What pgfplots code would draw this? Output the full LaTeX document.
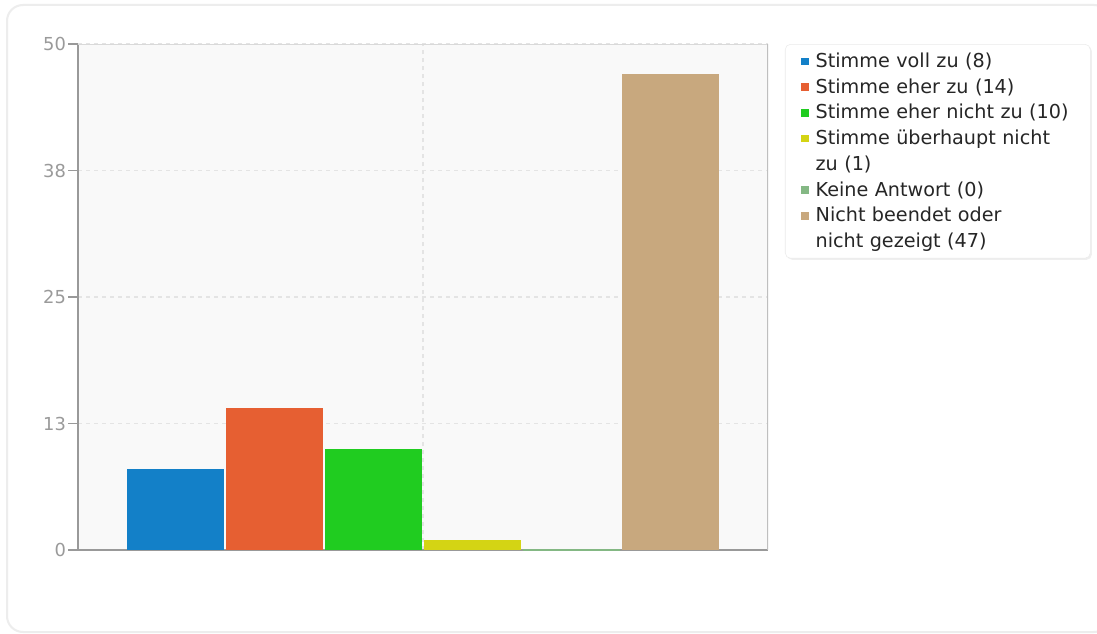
\documentclass[border=0pt]{standalone}
\usepackage{pgfplots}
\pgfplotsset{compat=1.18}
\usetikzlibrary{shadows}
\usepackage{fontspec}
\setmainfont{DejaVu Sans}
\definecolor{cBlue}{HTML}{1380C8}
\definecolor{cOrange}{HTML}{E65F32}
\definecolor{cGreen}{HTML}{20CC20}
\definecolor{cYellow}{HTML}{D4D414}
\definecolor{cLGreen}{HTML}{84B884}
\definecolor{cTan}{HTML}{C8A87E}
\definecolor{tickgray}{HTML}{9A9A9A}
\definecolor{axgray}{HTML}{999999}
\definecolor{gridgray}{HTML}{E4E4E4}
\definecolor{plotbg}{HTML}{F9F9F9}
\pgfplotsset{
  sq/.style={only marks, mark=square*, mark size=2.5pt, mark options={draw=#1, fill=#1}},
  sqNone/.style={only marks, mark=square*, mark size=2.5pt, mark options={draw=white, fill=white}},
}
\begin{document}
\begin{tikzpicture}[x=0.75pt,y=0.75pt]
\useasboundingbox (0,0) rectangle (1097,633);
\fill[white] (0,0) rectangle (1097,633);
\draw[color=black!7,line width=1.5pt,rounded corners=12pt] (7,1) rectangle (1110,628);
\begin{axis}[
  scale only axis,
  width=517.5pt, height=379.5pt,
  at={(78,82)}, anchor=south west,
  xmin=0, xmax=690, ymin=0, ymax=50,
  axis background/.style={fill=plotbg},
  ytick={0,12.5,25,37.5,50},
  yticklabels={0,13,25,38,50},
  xtick={345}, xticklabels={},
  major x tick style={draw=none},
  xmajorgrids, ymajorgrids,
  grid style={gridgray, dashed, line width=0.8pt},
  axis x line*=bottom, axis y line*=left,
  axis line style={axgray, line width=0.9pt, -},
  tick style={axgray, line width=0.8pt},
  major tick length=7.5pt,
  tick align=outside,
  yticklabel style={tickgray, font=\fontsize{13.4}{15}\selectfont, xshift=2pt},
  /pgf/number format/assume math mode=true,
  legend style={
    at={(1.0246,1.0)}, anchor=north west,
    draw=black!8, fill=white, rounded corners=4pt,
    drop shadow={opacity=0.12, shadow xshift=1.2pt, shadow yshift=-1.2pt},
    font=\fontsize{14.4}{17}\selectfont, text=black!85,
    row sep=2.85pt, inner xsep=12pt, inner ysep=4.5pt,
    /tikz/every odd column/.append style={column sep=3.8pt},
    /tikz/every even column/.append style={text width=192pt},
  },
  legend cell align=left,
]
\addplot[ybar, bar width=97, forget plot, fill=cBlue, draw=none, bar shift=0pt] coordinates {(97.5,8)};
\addplot[ybar, bar width=97, forget plot, fill=cOrange, draw=none, bar shift=0pt] coordinates {(196.5,14)};
\addplot[ybar, bar width=97, forget plot, fill=cGreen, draw=none, bar shift=0pt] coordinates {(295.5,10)};
\addplot[ybar, bar width=97, forget plot, fill=cYellow, draw=none, bar shift=0pt] coordinates {(394.5,1)};
\addplot[ybar, bar width=97, forget plot, fill=cLGreen, draw=cLGreen, line width=1.6pt, bar shift=0pt] coordinates {(493.5,0)};
\addplot[ybar, bar width=97, forget plot, fill=cTan, draw=none, bar shift=0pt] coordinates {(592.5,47)};
\draw[black!15, line width=0.9pt] (axis cs:0,50) -- (axis cs:690,50);
\draw[black!25, line width=0.9pt] (axis cs:690,50) -- (axis cs:690,0);
\addlegendimage{sq=cBlue}\addlegendentry{Stimme voll zu (8)}
\addlegendimage{sq=cOrange}\addlegendentry{Stimme eher zu (14)}
\addlegendimage{sq=cGreen}\addlegendentry{Stimme eher nicht zu (10)}
\addlegendimage{sq=cYellow}\addlegendentry{Stimme überhaupt nicht}
\addlegendimage{sqNone}\addlegendentry{zu (1)}
\addlegendimage{sq=cLGreen}\addlegendentry{Keine Antwort (0)}
\addlegendimage{sq=cTan}\addlegendentry{Nicht beendet oder}
\addlegendimage{sqNone}\addlegendentry{nicht gezeigt (47)}
\end{axis}
\end{tikzpicture}
\end{document}
